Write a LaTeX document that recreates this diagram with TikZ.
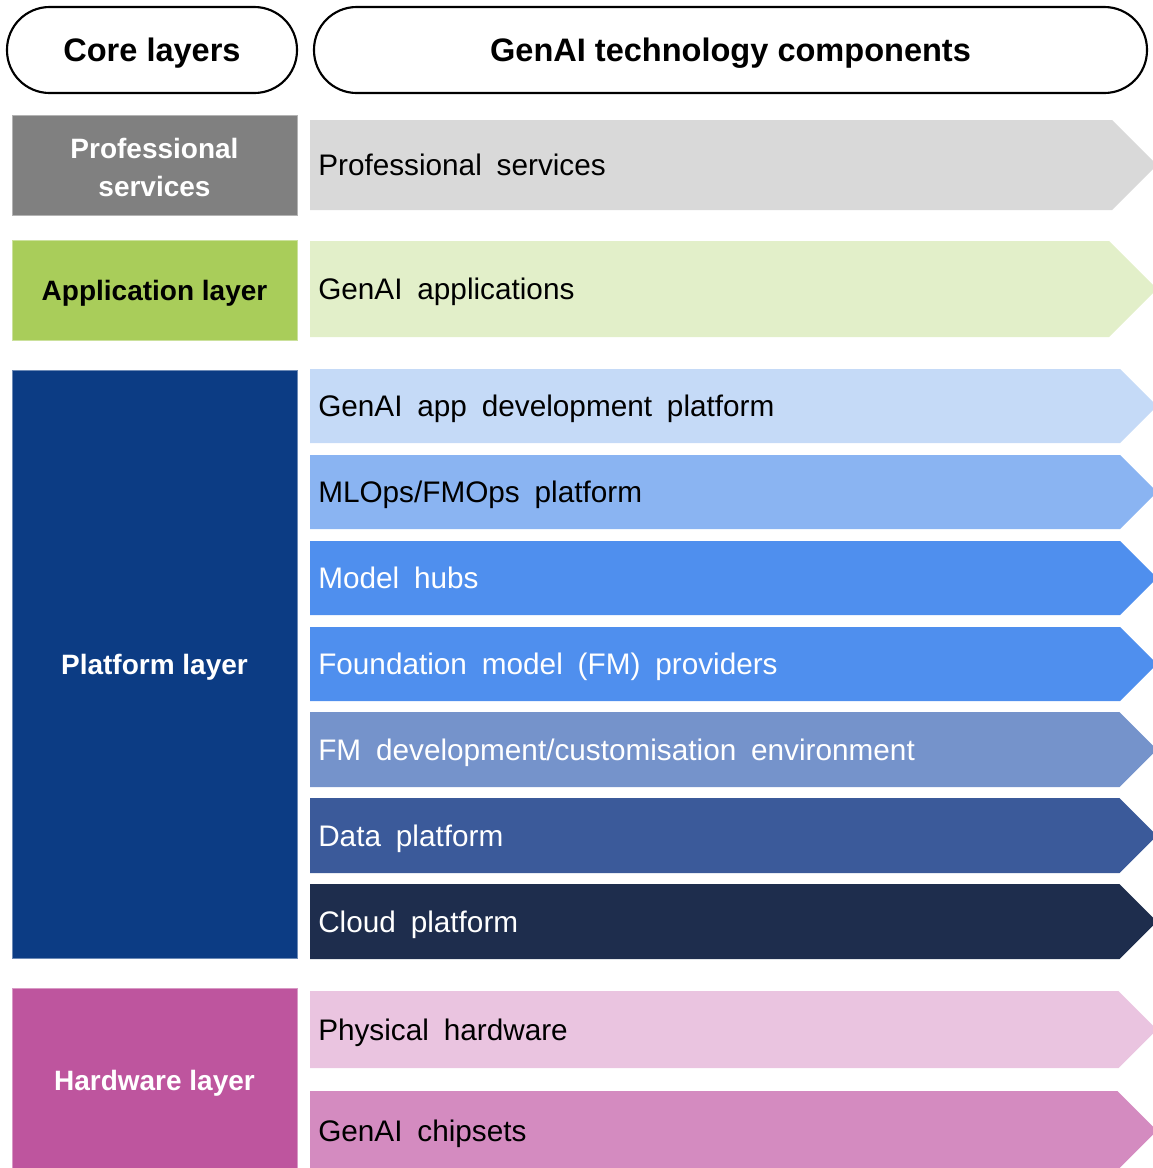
\documentclass[tikz,border=0pt]{standalone}
\usepackage{fontspec}
\setmainfont{Liberation Sans}
\newfontfamily\bandfont{Liberation Sans}[WordSpace=1.8]
\definecolor{psdark}{HTML}{808080}
\definecolor{pslight}{HTML}{D9D9D9}
\definecolor{appdark}{HTML}{A9CD5A}
\definecolor{applight}{HTML}{E2EFC9}
\definecolor{platdark}{HTML}{0C3C84}
\definecolor{bandA}{HTML}{C5DAF7}
\definecolor{bandB}{HTML}{8AB4F2}
\definecolor{bandC}{HTML}{4F8FEE}
\definecolor{bandD}{HTML}{7593CB}
\definecolor{bandE}{HTML}{3B5A9A}
\definecolor{bandF}{HTML}{1E2D4D}
\definecolor{hwdark}{HTML}{BE559E}
\definecolor{hwlightA}{HTML}{EAC4E0}
\definecolor{hwlightB}{HTML}{D48BC0}
\tikzset{
  pill/.style={draw=black, line width=1.6pt, fill=white, rounded corners=32pt},
  headtext/.style={font=\fontsize{24.4}{28}\selectfont\bfseries, text=black},
  layertext/.style={font=\fontsize{21}{28.5}\selectfont\bfseries, align=center},
  bandtext/.style={font=\bandfont\fontsize{22.3}{26}\selectfont, anchor=base west, inner sep=0pt},
}
% band with a chevron tip: name, top, bottom, fill, text colour, label
\newcommand{\chevband}[6]{%
  \pgfmathsetmacro{\bmid}{(#2+#3)/2}%
  \pgfmathsetmacro{\bbase}{(#2+#3)/2+10.5}%
  \pgfmathsetmacro{\btip}{1157-(#3-#2)/2}%
  \fill[#4] (310,#2) -- (\btip,#2) -- (1157,\bmid) -- (\btip,#3) -- (310,#3) -- cycle;
  \node[bandtext, text=#5] (#1) at (318,\bbase) {#6};
}
\begin{document}
\begin{tikzpicture}[x=0.75pt, y=-0.75pt]
\useasboundingbox (0,0) rectangle (1153,1168);
\clip (0,0) rectangle (1153,1168);

% column headers
\draw[pill] (7,7) rectangle (297,93);
\node[headtext] (hcore) at (152,53.5) {Core layers};
\draw[pill] (314,7) rectangle (1147,93);
\node[headtext] (hgenai) at (730.5,53.5) {GenAI technology components};

% core layer blocks
\filldraw[fill=psdark, draw=psdark!60!white, line width=0.5pt] (12,115) rectangle (297,215);
\node[layertext, text=white] (lps) at (154.5,167.5) {Professional\\services};
\filldraw[fill=appdark, draw=appdark!60!white, line width=0.5pt] (12,240) rectangle (297,340);
\node[layertext, text=black] (lapp) at (154.5,293.5) {Application layer};
\filldraw[fill=platdark, draw=platdark!60!white, line width=0.5pt] (12,370) rectangle (297,958);
\node[layertext, text=white] (lplat) at (154.5,667.5) {Platform layer};
\filldraw[fill=hwdark, draw=hwdark!60!white, line width=0.5pt] (12,988) rectangle (297,1175);
\node[layertext, text=white] (lhw) at (154.5,1083.5) {Hardware layer};

% technology components
\chevband{cps}{120}{210}{pslight}{black}{Professional services}
\chevband{capp}{241}{337}{applight}{black}{GenAI applications}
\chevband{cdev}{369}{443}{bandA}{black}{GenAI app development platform}
\chevband{cmlops}{455}{529}{bandB}{black}{MLOps/FMOps platform}
\chevband{chubs}{541}{615}{bandC}{white}{Model hubs}
\chevband{cfm}{627}{701}{bandC}{white}{Foundation model (FM) providers}
\chevband{cfmdev}{712}{787}{bandD}{white}{FM development/customisation environment}
\chevband{cdata}{798}{873}{bandE}{white}{Data platform}
\chevband{ccloud}{884}{959}{bandF}{white}{Cloud platform}
\chevband{cphys}{991}{1068}{hwlightA}{black}{Physical hardware}
\chevband{cchip}{1091}{1170}{hwlightB}{black}{GenAI chipsets}
\end{tikzpicture}
\end{document}
